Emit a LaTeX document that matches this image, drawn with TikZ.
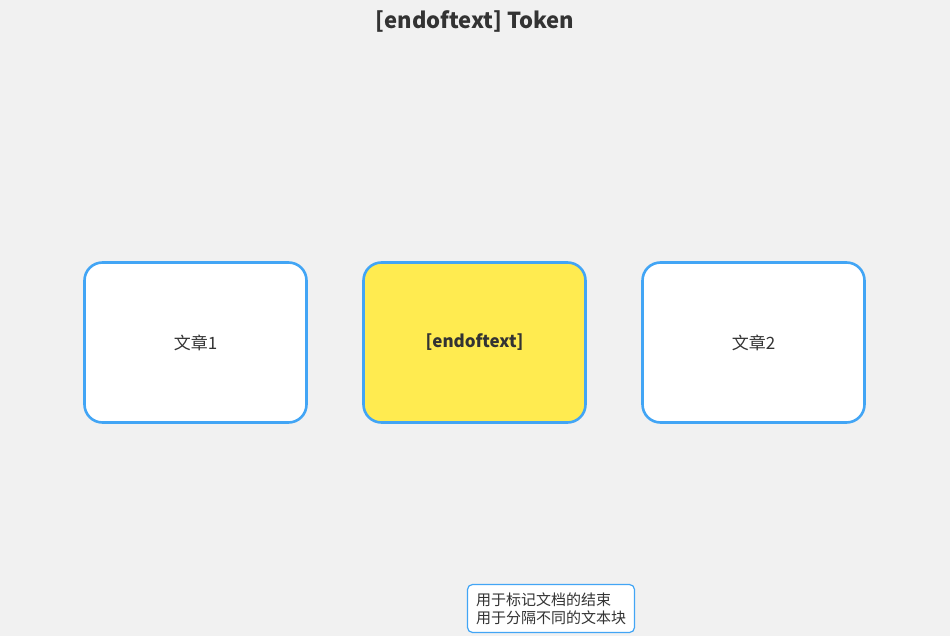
\documentclass[tikz,border=0pt]{standalone}
\usepackage{fontspec}
\setmainfont{Noto Sans CJK SC}
\definecolor{bg}{HTML}{F1F1F1}
\definecolor{bordblue}{HTML}{42A5F5}
\definecolor{yel}{HTML}{FFEB50}
\definecolor{txt}{HTML}{333333}
\tikzset{
  docbox/.style={draw=bordblue, line width=2.6pt, rounded corners=18pt, fill=white,
    minimum width=222pt, minimum height=160pt, inner sep=0pt, text=txt,
    font=\fontsize{17pt}{20pt}\selectfont},
  notebox/.style={draw=bordblue, line width=1.2pt, rounded corners=5pt, fill=white,
    minimum width=167pt, minimum height=48pt, inner sep=0pt, text=txt, align=left,
    font=\fontsize{15pt}{18pt}\selectfont},
}
\begin{document}
\begin{tikzpicture}[x=1pt,y=-1pt]
\fill[bg] (0,0) rectangle (950,636);
\useasboundingbox (0,0) rectangle (950,636);
\node[text=txt, font=\bfseries\fontsize{22pt}{26pt}\selectfont] (title) at (475,21) {[endoftext] Token};
\node[docbox] (a1) at (195.5,342.5) {文章1};
\node[docbox, fill=yel, font=\bfseries\fontsize{17pt}{20pt}\selectfont] (eot) at (474.5,342.5) {[endoftext]};
\node[docbox] (a2) at (753.5,342.5) {文章2};
\node[notebox] (note) at (551,608.5) {用于标记文档的结束\\用于分隔不同的文本块};
\end{tikzpicture}
\end{document}
